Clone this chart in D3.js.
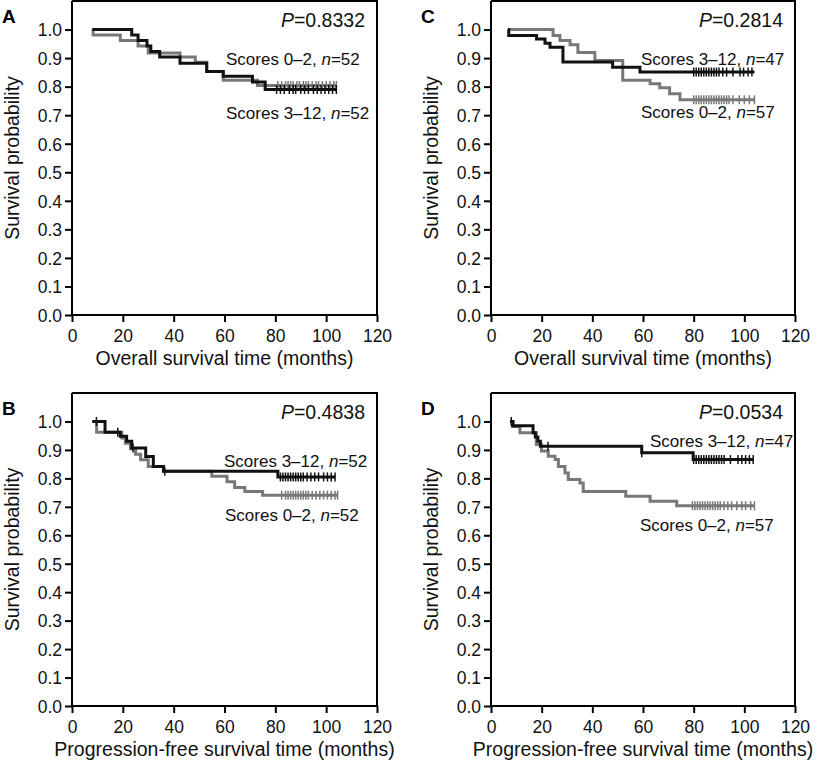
<!DOCTYPE html>
<html>
<head>
<meta charset="utf-8">
<script src="https://cdn.jsdelivr.net/npm/d3@7"></script>
<style>
html,body{margin:0;padding:0;background:#fff;}
svg{display:block;font-family:"Liberation Sans",Arial,Helvetica,sans-serif;}
</style>
</head>
<body>
<svg id="chart" width="817" height="766"></svg>
<script>
// ---------- DATA ----------
const xTicks = [0, 20, 40, 60, 80, 100, 120];
const yTicks = [0, 0.1, 0.2, 0.3, 0.4, 0.5, 0.6, 0.7, 0.8, 0.9, 1.0];
const seriesNames = ["Scores 0\u20132", "Scores 3\u201312"];

// Panel A (overall survival)
const aGrayTimes = [8, 8.3, 19, 26, 30, 42.5, 48.5, 53, 59.5, 73];
const aGraySurv  = [1.0, 0.981, 0.962, 0.942, 0.918, 0.904, 0.885, 0.853, 0.822, 0.804];
const aGrayEnd = 104;
const aGrayCensor = [81, 82.5, 84, 85, 86, 87, 88.5, 89.5, 91, 92, 93, 94.5, 96, 97, 98.5, 100, 101.5, 103, 104];
const aBlackTimes = [8, 23.5, 26, 29.5, 31, 34.5, 42.5, 53, 59.5, 71, 76];
const aBlackSurv  = [1.0, 0.981, 0.962, 0.942, 0.923, 0.904, 0.882, 0.853, 0.836, 0.816, 0.79];
const aBlackEnd = 104;
const aBlackCensor = [80.5, 82, 83.5, 85.5, 87, 88, 90, 91.5, 93, 95, 96.5, 98, 99.5, 101, 102.5, 104];

// Panel C (overall survival)
const cGrayTimes = [6.7, 24.5, 27.2, 31.2, 34.3, 41, 52, 62.8, 66.6, 70.5, 74.6];
const cGraySurv  = [1.0, 0.979, 0.962, 0.947, 0.92, 0.892, 0.822, 0.81, 0.796, 0.775, 0.754];
const cGrayEnd = 104;
const cGrayCensor = [80, 81, 82, 83, 84, 85, 86, 87, 88, 89, 90, 91, 92, 93, 94, 95.5, 98, 100, 102, 104];
const cBlackTimes = [6.7, 7, 18, 21.3, 23.3, 28.4, 48, 58.8];
const cBlackSurv  = [1.0, 0.979, 0.967, 0.952, 0.938, 0.886, 0.868, 0.851];
const cBlackEnd = 104;
const cBlackCensor = [80, 81, 82, 83, 84, 85, 86, 87, 88, 89, 90, 91.5, 93, 95.5, 98.3, 99.7, 101.5, 103];

// Panel B (progression-free survival)
const bGrayTimes = [8, 9.7, 19.6, 21, 23, 25, 27, 30, 36, 55, 61, 64, 68, 75];
const bGraySurv  = [1.0, 0.962, 0.942, 0.923, 0.904, 0.885, 0.865, 0.842, 0.825, 0.807, 0.788, 0.768, 0.754, 0.741];
const bGrayEnd = 104.5;
const bGrayCensor = [82.5, 84, 85, 86, 87, 88, 89, 90, 91, 92, 93, 94.5, 96, 97.5, 99, 100.5, 102, 103.5, 104.5];
const bBlackTimes = [8, 13, 19, 21.5, 23.5, 29, 32, 36, 81];
const bBlackSurv  = [1.0, 0.962, 0.948, 0.93, 0.907, 0.877, 0.842, 0.825, 0.805];
const bBlackEnd = 103.5;
const bBlackCensor = [9.6, 18, 24, 36.5, 82, 83, 84, 85, 86, 87, 88, 89, 90, 91, 92.5, 94, 95.5, 97, 99, 100.5, 102, 103.5];

// Panel D (progression-free survival)
const dGrayTimes = [7.5, 8.5, 11.4, 17.9, 19.9, 22.6, 25.3, 26.6, 29.2, 30.5, 35.1, 36.4, 53.2, 62.8, 73.3];
const dGraySurv  = [1.0, 0.982, 0.96, 0.919, 0.896, 0.878, 0.866, 0.842, 0.819, 0.796, 0.784, 0.754, 0.737, 0.72, 0.704];
const dGrayEnd = 104;
const dGrayCensor = [79.5, 80.5, 81.5, 82.5, 83.5, 84.5, 85.5, 86.5, 87.5, 88.5, 89.5, 90.5, 92, 93.5, 95, 97, 99, 100.5, 102.5, 104];
const dBlackTimes = [7.5, 8.7, 16.6, 17.5, 18.5, 19.5, 59.5, 79.8];
const dBlackSurv  = [1.0, 0.985, 0.96, 0.945, 0.93, 0.913, 0.89, 0.866];
const dBlackEnd = 103.5;
const dBlackCensor = [8, 22.5, 59.5, 80, 81, 82, 83, 84, 85, 86, 87, 88, 89, 90, 91, 92, 94.5, 97.5, 99, 100.5, 102, 103.5];

const pValues = ["0.8332", "0.4838", "0.2814", "0.0534"];
const nGray = ["52", "52", "57", "57"];
const nBlack = ["52", "52", "47", "47"];

// ---------- LAYOUT ----------
const GRAY = "#787878", BLACK = "#111";
const FS = 17.5;      // tick labels
const FL = 17;        // series labels
const FT = 19.5;      // axis titles, P values
const panels = [
  {letter:"A", left:72, right:377, top:1, bottom:315, xLabel:"Overall survival time (months)",
   p:pValues[0], gray:[aGrayTimes,aGraySurv,aGrayEnd,aGrayCensor], black:[aBlackTimes,aBlackSurv,aBlackEnd,aBlackCensor],
   grayLab:{x:226,y:65,n:nGray[0]}, blackLab:{x:226,y:119,n:nBlack[0]}},
  {letter:"B", left:72, right:377, top:393, bottom:706, xLabel:"Progression-free survival time (months)",
   p:pValues[1], gray:[bGrayTimes,bGraySurv,bGrayEnd,bGrayCensor], black:[bBlackTimes,bBlackSurv,bBlackEnd,bBlackCensor],
   grayLab:{x:225,y:521,n:nGray[1]}, blackLab:{x:224,y:467,n:nBlack[1]}},
  {letter:"C", left:491, right:795, top:1, bottom:315, xLabel:"Overall survival time (months)",
   p:pValues[2], gray:[cGrayTimes,cGraySurv,cGrayEnd,cGrayCensor], black:[cBlackTimes,cBlackSurv,cBlackEnd,cBlackCensor],
   grayLab:{x:641,y:118,n:nGray[2]}, blackLab:{x:641,y:65,n:nBlack[2]}},
  {letter:"D", left:491, right:795, top:393, bottom:706, xLabel:"Progression-free survival time (months)",
   p:pValues[3], gray:[dGrayTimes,dGraySurv,dGrayEnd,dGrayCensor], black:[dBlackTimes,dBlackSurv,dBlackEnd,dBlackCensor],
   grayLab:{x:640,y:531,n:nGray[3]}, blackLab:{x:650,y:447,n:nBlack[3]}}
];

const svg = d3.select("#chart");

function survAt(times, surv, t){
  let s = surv[0];
  for (let i=0;i<times.length;i++){ if (times[i] <= t) s = surv[i]; }
  return s;
}

panels.forEach(P => {
  const x = d3.scaleLinear().domain([0,120]).range([P.left, P.right]);
  const y = d3.scaleLinear().domain([0,1.1]).range([P.bottom, P.top]);
  const g = svg.append("g");

  // frame (top + right)
  g.append("path")
    .attr("d", `M${P.left},${P.top}H${P.right}V${P.bottom}`)
    .attr("fill","none").attr("stroke","#000").attr("stroke-width",2);

  // axes
  const xa = g.append("g").attr("transform",`translate(0,${P.bottom})`)
    .call(d3.axisBottom(x).tickValues(xTicks).tickSize(7).tickPadding(4).tickSizeOuter(0));
  const ya = g.append("g").attr("transform",`translate(${P.left},0)`)
    .call(d3.axisLeft(y).tickValues(yTicks).tickFormat(d3.format(".1f")).tickSize(7).tickPadding(3).tickSizeOuter(0));
  [xa,ya].forEach(a=>{
    a.select(".domain").attr("stroke","#000").attr("stroke-width",2);
    a.selectAll(".tick line").attr("stroke","#000").attr("stroke-width",2);
    a.selectAll("text").attr("font-size",FS).attr("fill","#111").attr("font-family",null);
  });
  ya.select(".domain").attr("d", `M0,${P.bottom}V${P.top}`);
  xa.select(".domain").attr("d", `M${P.left},0H${P.right}`);
  xa.selectAll("text").attr("dy",null).attr("y",27);
  ya.selectAll("text").attr("dy","0.36em");

  // axis titles
  g.append("text").attr("x",(P.left+P.right)/2).attr("y",P.bottom+50)
    .attr("text-anchor","middle").attr("font-size",FT).attr("fill","#111").text(P.xLabel);
  g.append("text").attr("transform",`translate(${P.left-53},${(P.top+P.bottom)/2}) rotate(-90)`)
    .attr("text-anchor","middle").attr("font-size",FT).attr("fill","#111").text("Survival probability");

  // panel letter
  g.append("text").attr("x", P.left-70).attr("y", P.top+22)
    .attr("font-size",19).attr("font-weight","bold").attr("fill","#000").text(P.letter);

  // curves
  const line = d3.line().x(d=>x(d[0])).y(d=>y(d[1])).curve(d3.curveStepAfter);
  [[P.gray,GRAY],[P.black,BLACK]].forEach(([c,col])=>{
    const [times,surv,end,censor] = c;
    const pts = times.map((t,i)=>[t,surv[i]]);
    pts.push([end, surv[surv.length-1]]);
    g.append("path").attr("d",line(pts)).attr("fill","none")
      .attr("stroke",col).attr("stroke-width",3).attr("stroke-linejoin","miter");
    g.selectAll(null).data(censor).enter().append("line")
      .attr("x1",d=>x(d)).attr("x2",d=>x(d))
      .attr("y1",d=>y(survAt(times,surv,d))-4.5).attr("y2",d=>y(survAt(times,surv,d))+4.5)
      .attr("stroke",col).attr("stroke-width",1.5);
  });

  // P value
  const pt = g.append("text").attr("x",P.right-12).attr("y",P.top+26)
    .attr("text-anchor","end").attr("font-size",FT).attr("fill","#111");
  pt.append("tspan").attr("font-style","italic").text("P");
  pt.append("tspan").text("="+P.p);

  // series labels
  [[P.grayLab,seriesNames[0]],[P.blackLab,seriesNames[1]]].forEach(([L,name])=>{
    const t = g.append("text").attr("x",L.x).attr("y",L.y).attr("font-size",FL).attr("fill","#111");
    t.append("tspan").text(name+", ");
    t.append("tspan").attr("font-style","italic").text("n");
    t.append("tspan").text("="+L.n);
  });
});
</script>
</body>
</html>
